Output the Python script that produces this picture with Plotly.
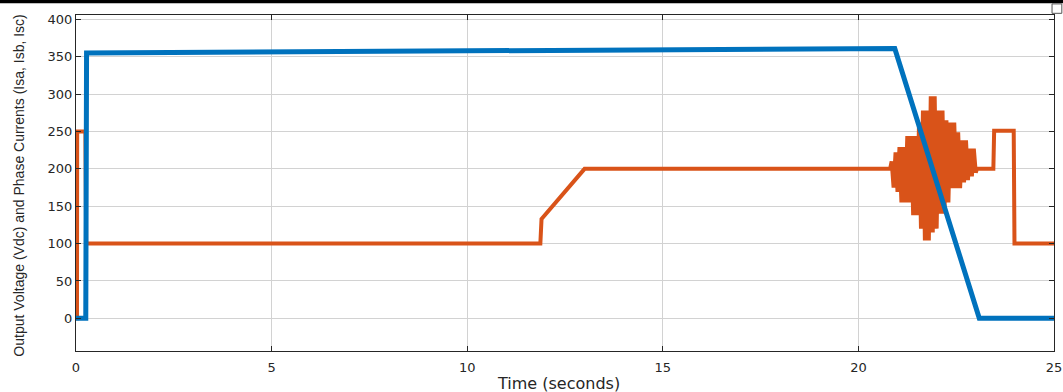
import plotly.graph_objects as go

# ---- data ----
vdc_t = [0.0, 0.25, 0.27, 20.93, 23.09, 25.0]
vdc_v = [0.0, 0.0, 355.0, 361.0, 0.0, 0.0]

cur_t_start = [0.0, 0.025, 0.03, 0.24, 0.26, 11.87, 11.9, 13.0, 20.81]
cur_v_start = [0.0, 0.0, 250.0, 250.0, 100.0, 100.0, 133.0, 200.0, 200.0]

osc_t = [20.85, 20.90, 20.95, 21.00, 21.05, 21.10, 21.15, 21.20, 21.25, 21.30,
         21.35, 21.40, 21.45, 21.50, 21.55, 21.60, 21.65, 21.70, 21.75, 21.80,
         21.85, 21.90, 21.95, 22.00, 22.05, 22.10, 22.15, 22.20, 22.25, 22.30,
         22.35, 22.40, 22.45, 22.50, 22.55, 22.60, 22.65, 22.70, 22.75, 22.80,
         22.85, 22.90, 22.95, 23.00]
osc_v = [210, 175, 222, 169, 229, 155, 229, 155, 244, 155,
         244, 138, 244, 138, 262, 120, 278, 104, 278, 104,
         297, 115, 297, 120, 278, 140, 278, 140, 265, 155,
         262, 174, 262, 174, 249, 174, 238, 182, 238, 185,
         227, 190, 227, 195]

cur_t_end = [23.03, 23.45, 23.47, 23.97, 23.99, 25.0]
cur_v_end = [200.0, 200.0, 251.0, 251.0, 100.0, 100.0]

x_ticks = [0, 5, 10, 15, 20, 25]
y_ticks = [0, 50, 100, 150, 200, 250, 300, 350, 400]

x_title = "Time (seconds)"
y_title = "Output Voltage (Vdc) and Phase Currents (Isa, Isb, Isc)"

BLUE = "#0072BD"
ORANGE = "#D95319"

cur_t = cur_t_start + osc_t + cur_t_end
cur_v = cur_v_start + osc_v + cur_v_end

fig = go.Figure()
fig.add_trace(go.Scatter(x=cur_t, y=cur_v, mode="lines",
                         line=dict(color=ORANGE, width=4), showlegend=False))
fig.add_trace(go.Scatter(x=vdc_t, y=vdc_v, mode="lines",
                         line=dict(color=BLUE, width=5), showlegend=False))

axis_common = dict(
    showgrid=True, gridcolor="#d2d2d2", gridwidth=1,
    showline=True, linecolor="#262626", linewidth=1, mirror="ticks",
    ticks="inside", ticklen=5, tickcolor="#262626", zeroline=False,
    tickfont=dict(family="DejaVu Sans", size=13, color="#262626"),
)

fig.update_xaxes(range=[0, 25], tickvals=x_ticks, ticktext=[str(v) for v in x_ticks],
                 ticklabelstandoff=4, **axis_common)
fig.update_yaxes(range=[-43.7, 405.8], tickvals=y_ticks, ticktext=[str(v) for v in y_ticks],
                 **axis_common)

fig.update_layout(
    width=1063, height=392,
    margin=dict(l=76, r=9, t=15, b=41, autoexpand=False),
    paper_bgcolor="white", plot_bgcolor="white",
    annotations=[
        dict(text=y_title, xref="paper", yref="paper", x=-0.058, y=0.493,
             xanchor="center", yanchor="middle", textangle=-90, showarrow=False,
             font=dict(family="Liberation Sans, Arial", size=14, color="#262626")),
        dict(text=x_title, xref="paper", yref="paper", x=0.493, y=-0.097,
             xanchor="center", yanchor="middle", showarrow=False,
             font=dict(family="DejaVu Sans", size=16, color="#262626")),
    ],
    shapes=[
        dict(type="rect", xref="paper", yref="paper", x0=-0.1, x1=1.1,
             y0=1.0348, y1=1.06, fillcolor="black", line=dict(width=0), layer="above"),
        dict(type="rect", xref="paper", yref="paper", x0=0.998, x1=1.008,
             y0=1.005, y1=1.033, fillcolor="white", line=dict(color="#555555", width=1),
             layer="above"),
    ],
)

fig.write_html("out.html", config={"displayModeBar": False},
               post_script="document.body.style.margin='0';document.body.style.overflow='hidden';")
